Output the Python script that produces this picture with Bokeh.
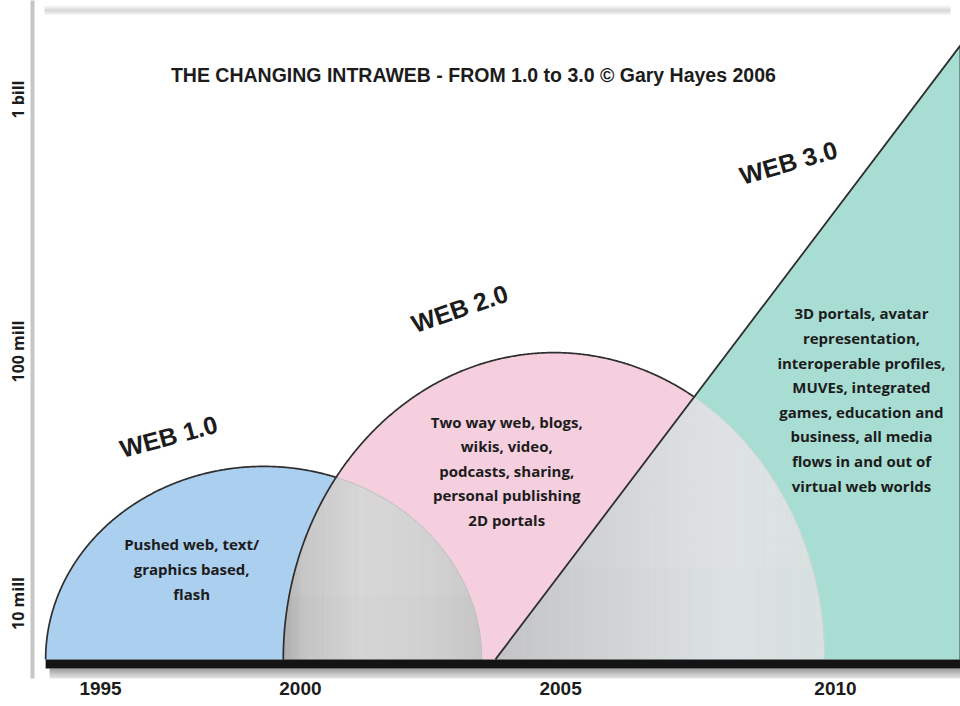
import numpy as np
from bokeh.plotting import figure
from bokeh.models import FixedTicker, Label
from bokeh.core.properties import value
from bokeh.embed import file_html
from bokeh.resources import INLINE

# ---------------- data ----------------
title_text = "THE CHANGING INTRAWEB - FROM 1.0 to 3.0 \u00a9 Gary Hayes 2006"
eras = ["WEB 1.0", "WEB 2.0", "WEB 3.0"]
era_start = [1993.88, 1998.73, 2003.06]        # year each era rises from the baseline
era_end = [2002.78, 2009.78, 2012.55]          # year each era returns to the baseline / ends
era_peak_users = [3.5e7, 9.9e7, 1.64e9]        # users at the top of each era
baseline_users = 6.0e6
year_labels = ["1995", "2000", "2005", "2010"]
year_label_at = [1995.0, 1999.08, 2004.39, 2010.0]   # position of each year on the (conceptual) timeline
user_labels = ["10 mill", "100 mill", "1 bill"]
user_label_at = [1e7, 1e8, 1e9]
desc_web1 = ["Pushed web, text/", "graphics based,", "flash"]
desc_web2 = ["Two way web, blogs,", "wikis, video,", "podcasts, sharing,",
             "personal publishing", "2D portals"]
desc_web3 = ["3D portals, avatar", "representation,", "interoperable profiles,",
             "MUVEs, integrated", "games, education and", "business, all media",
             "flows in and out of", "virtual web worlds"]

# ---------------- style / layout ----------------
era_colors = ["#abcfee", "#f6cfdf", "#a8ddd3"]
ink = "#1c1c1c"
head_font = "Liberation Sans"
body_font = "Open Sans"
W, H = 960, 706
ML, MB = 32, 28
x0, x1 = 1993.612, 2012.551
y0, y1 = 6.7024, 9.393
px_x = (x1 - x0) / (W - ML)
px_y = (y1 - y0) / (H - MB)

p = figure(width=W, height=H, x_range=(x0, x1), y_range=(y0, y1),
           output_backend="svg", toolbar_location=None,
           min_border_left=ML, min_border_right=0, min_border_top=0, min_border_bottom=MB)
p.grid.visible = False
p.outline_line_color = None
p.background_fill_color = "white"
p.border_fill_color = "white"

base = np.log10(baseline_users)
peaks = [np.log10(v) for v in era_peak_users]


def dome(i, x):
    c = (era_start[i] + era_end[i]) / 2
    a = (era_end[i] - era_start[i]) / 2
    r = np.clip(1 - ((x - c) / a) ** 2, 0, None)
    return base + (peaks[i] - base) * np.sqrt(r)


def ramp(x):
    return base + (peaks[2] - base) * np.clip((x - era_start[2]) / (era_end[2] - era_start[2]), 0, None)


# panel shadows (top edge)
for k in range(10):
    yy = y1 - (5 + k) * px_y
    p.line([x0 + 12 * px_x, x1 - 10 * px_x], [yy, yy], line_color="#000000",
           line_alpha=0.16 * max(0.0, 1 - abs(k - 5) / 5.5), line_width=1.2)

# main shapes
t = np.linspace(0, np.pi, 240)
for i in range(2):
    c = (era_start[i] + era_end[i]) / 2
    a = (era_end[i] - era_start[i]) / 2
    xs = c - a * np.cos(t)
    p.patch(xs, dome(i, xs), fill_color=era_colors[i], line_color=None)
p.patch([era_start[2], era_end[2], era_end[2]], [base, peaks[2], base],
        fill_color=era_colors[2], line_color=None)


def interp(u, stops):
    return np.interp(u, [s[0] for s in stops], [s[1] for s in stops])


def shade_region(xlo, xhi, top, stops_r, stops_g, stops_b, n=70):
    edges = np.linspace(xlo, xhi, n + 1)
    xs_l, ys_l, cols = [], [], []
    for k in range(n):
        xa, xb = edges[k], edges[k + 1]
        xx = np.linspace(xa, xb, 6)
        tt = top(xx)
        xs_l.append([xa] + list(xx) + [xb])
        ys_l.append([base] + list(tt) + [base])
        u = (k + 0.5) / n
        r = int(interp(u, stops_r)); g = int(interp(u, stops_g)); b = int(interp(u, stops_b))
        cols.append("#%02x%02x%02x" % (r, g, b))
    p.patches(xs_l, ys_l, fill_color=cols, line_color=cols, line_width=0.6)


topA = lambda x: np.minimum(dome(0, x), dome(1, x))
topB = lambda x: np.minimum(dome(1, x), ramp(x))
# overlap 1.0 & 2.0
stA = [(0, 172), (0.1, 196), (0.4, 214), (0.75, 208), (1, 198)]
shade_region(era_start[1], era_end[0], topA, stA, stA, stA)
# overlap 2.0 & 3.0
stBr = [(0, 196), (0.3, 208), (0.7, 222), (1, 216)]
stBg = [(0, 196), (0.3, 209), (0.7, 226), (1, 224)]
stBb = [(0, 198), (0.3, 211), (0.7, 228), (1, 224)]
shade_region(era_start[2], era_end[1], topB, stBr, stBg, stBb)

# vertical highlight: lighter towards the top inside the gray regions
for (xlo, xhi, top) in [(era_start[1], era_end[0], topA), (era_start[2], era_end[1], topB)]:
    xx = np.linspace(xlo, xhi, 400)
    tt = top(xx)
    hmax = tt.max()
    nb = 12
    for k in range(nb):
        ya = base + (hmax - base) * (0.35 + 0.65 * k / nb)
        yb = base + (hmax - base) * (0.35 + 0.65 * (k + 1) / nb)
        m = tt >= ya
        if m.sum() < 2:
            continue
        xm = xx[m]
        up = np.minimum(tt[m], yb)
        p.patch(list(xm) + list(xm[::-1]), list(up) + [ya] * len(xm),
                fill_color="white", fill_alpha=0.06, line_color=None)

# outlines
xs12 = np.linspace(era_start[1], era_end[0], 4000)
x_int12 = xs12[np.argmax(dome(0, xs12) - dome(1, xs12) < 0)]
xs23 = np.linspace(era_start[2], era_end[1], 4000)
x_int23 = xs23[np.argmax(dome(1, xs23) - ramp(xs23) < 0)]

tt1 = np.linspace(0, np.pi, 600)
for i, xi, light in [(0, x_int12, "#bdbdbd"), (1, x_int23, "#c8d4d2")]:
    c = (era_start[i] + era_end[i]) / 2
    a = (era_end[i] - era_start[i]) / 2
    xa = c - a * np.cos(tt1)
    m = xa <= xi
    p.line(xa[~m], dome(i, xa[~m]), line_color=light, line_width=1.0)
    p.line(xa[m], dome(i, xa[m]), line_color="#2e2e2e", line_width=1.7)
p.line([era_start[2], era_end[2], era_end[2]], [base, peaks[2], base],
       line_color="#2e2e2e", line_width=1.8)

# base bar with soft shadow
bar_h = 9 * px_y
for k in range(16):
    p.quad(left=era_start[0] + 4 * px_x, right=x1, top=base - bar_h - k * px_y,
           bottom=base - bar_h - (k + 1) * px_y, fill_color="#000000",
           fill_alpha=0.42 * (1 - k / 16) ** 1.5, line_color=None)
p.quad(left=era_start[0], right=x1, top=base, bottom=base - bar_h,
       fill_color="#141414", line_color=None)

# axes
p.xaxis.ticker = FixedTicker(ticks=year_label_at)
p.xaxis.major_label_overrides = {float(tk): lb for tk, lb in zip(year_label_at, year_labels)}
p.xaxis.axis_line_color = None
p.xaxis.major_tick_line_color = None
p.xaxis.minor_tick_line_color = None
p.xaxis.major_tick_out = 0
p.xaxis.major_tick_in = 0
p.xaxis.minor_tick_out = 0
p.xaxis.major_label_text_font = head_font
p.xaxis.major_label_text_font_size = "19px"
p.xaxis.major_label_text_font_style = "bold"
p.xaxis.major_label_text_color = ink
p.xaxis.major_label_standoff = 3

ylog_ticks = [round(float(np.log10(v)), 6) for v in user_label_at]
p.yaxis.ticker = FixedTicker(ticks=ylog_ticks)
p.yaxis.major_label_overrides = {tk: lb for tk, lb in zip(ylog_ticks, user_labels)}
p.yaxis.axis_line_color = "#c6c6c6"
p.yaxis.axis_line_width = 4
p.yaxis.major_tick_line_color = None
p.yaxis.minor_tick_line_color = None
p.yaxis.major_tick_out = 0
p.yaxis.major_tick_in = 0
p.yaxis.minor_tick_out = 0
p.yaxis.major_label_orientation = "vertical"
p.yaxis.major_label_text_font = body_font
p.yaxis.major_label_text_font_size = "16px"
p.yaxis.major_label_text_font_style = "bold"
p.yaxis.major_label_text_color = ink
p.yaxis.major_label_standoff = 3

# title
p.add_layout(Label(x=2002.61, y=9.099, text=title_text, text_align="center",
                   text_baseline="middle", text_font=head_font, text_font_size="19.5px",
                   text_font_style="bold", text_color=ink))

# era names
era_label_x = [1996.39, 2002.33, 2009.04]
era_label_y = [7.663, 8.171, 8.75]
era_label_angle = [15, 19, 16]
for nm, lx, ly, ang in zip(eras, era_label_x, era_label_y, era_label_angle):
    p.add_layout(Label(x=lx, y=ly, text=nm, angle=ang, angle_units="deg",
                       text_align="center", text_baseline="middle",
                       text_font=head_font, text_font_size="25px",
                       text_font_style="bold", text_color=ink))

# descriptions
desc_x = [1996.86, 2003.29, 2010.53]
desc_y0 = [7.238, 7.722, 8.151]
desc_step = [0.0992, 0.0972, 0.0976]
for lines, dx, dy0, st in zip([desc_web1, desc_web2, desc_web3], desc_x, desc_y0, desc_step):
    p.text(x=[dx] * len(lines), y=[dy0 - i * st for i in range(len(lines))], text=lines,
           text_align="center", text_baseline="middle", text_font=value(body_font),
           text_font_size="15px", text_font_style="bold", text_color=ink)

open("out.html", "w").write(file_html(p, INLINE))
